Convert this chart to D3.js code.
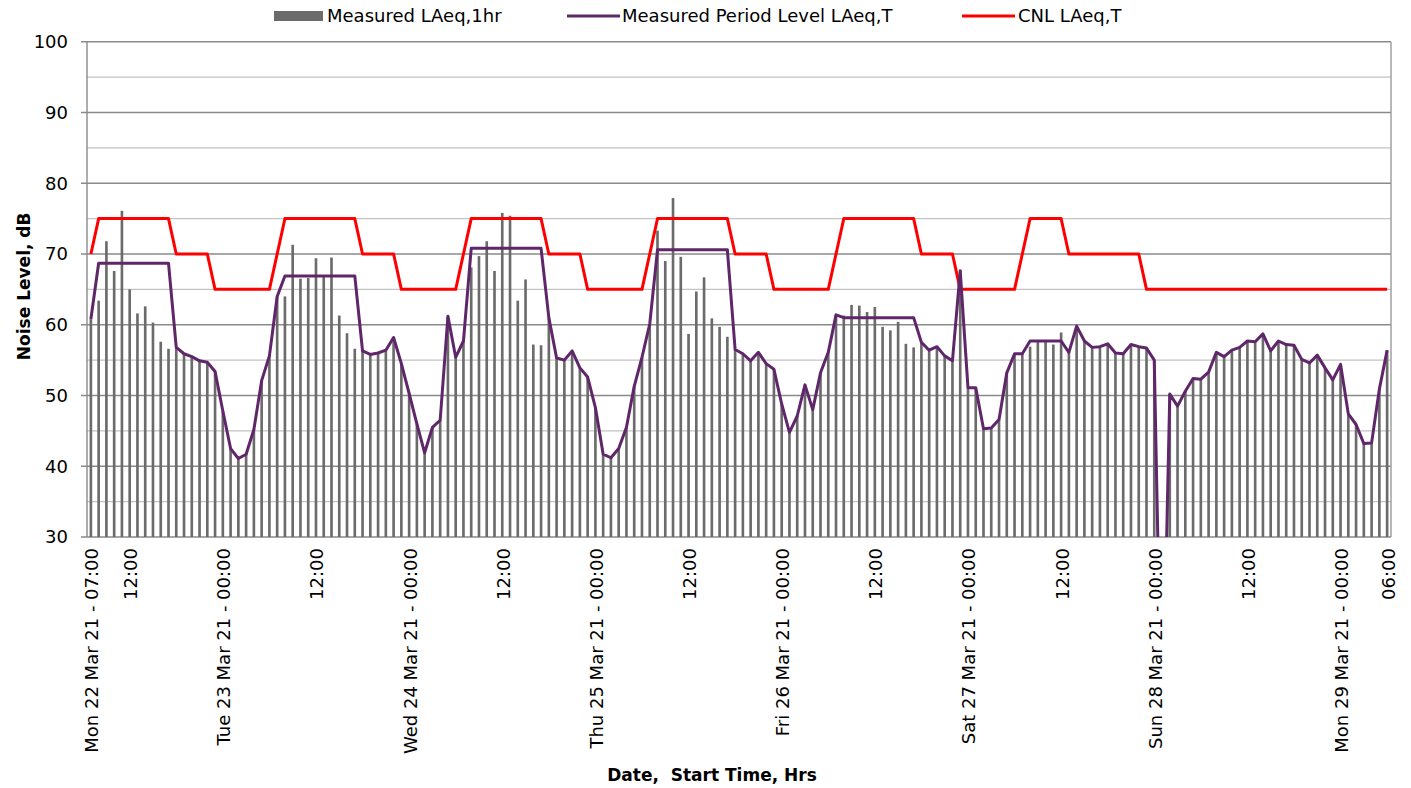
<!DOCTYPE html>
<html>
<head>
<meta charset="utf-8">
<script src="https://cdn.jsdelivr.net/npm/d3@7"></script>
<style>
  body { margin: 0; background: #fff; }
  svg { display: block; font-family: "DejaVu Sans", sans-serif; }
</style>
</head>
<body>
<svg id="chart" width="1411" height="788"></svg>
<script>
// hourly measured LAeq,1hr, Mon 22 Mar 07:00 -> Mon 29 Mar 06:00
const laeq1h = [
  60.8, 63.4, 71.8, 67.6, 76.1, 65.0, 61.6, 62.6, 60.3, 57.6, 56.6, 56.8,
  55.9, 55.5, 54.9, 54.7, 53.4, 47.8, 42.5, 41.1, 41.7, 45.2, 52.1, 55.6,
  64.0, 64.0, 71.3, 66.5, 66.6, 69.4, 67.0, 69.5, 61.3, 58.8, 56.6, 56.3,
  55.8, 56.0, 56.4, 58.2, 54.5, 50.3, 46.0, 41.9, 45.5, 46.5, 61.2, 55.4,
  57.7, 68.1, 69.7, 71.8, 67.6, 75.8, 75.4, 63.4, 66.4, 57.2, 57.1, 61.0,
  55.3, 55.0, 56.3, 53.9, 52.6, 48.3, 41.7, 41.2, 42.5, 45.5, 51.3, 55.4,
  60.1, 73.3, 69.0, 77.9, 69.6, 58.7, 64.7, 66.7, 60.9, 59.7, 58.3, 56.5,
  55.9, 54.9, 56.1, 54.5, 53.7, 48.8, 44.8, 47.1, 51.5, 48.0, 53.2, 56.1,
  61.4, 61.3, 62.8, 62.7, 61.8, 62.5, 59.7, 59.2, 60.4, 57.3, 56.8, 57.5,
  56.4, 56.9, 55.6, 54.9, 67.8, 51.1, 51.1, 45.3, 45.4, 46.6, 53.2, 55.9,
  55.9, 56.9, 57.7, 57.7, 57.2, 58.9, 56.1, 59.8, 57.7, 56.8, 56.9, 57.3,
  56.0, 55.9, 57.2, 56.9, 56.7, 55.0, 0.0, 50.2, 48.5, 50.6, 52.4, 52.3,
  53.3, 56.1, 55.5, 56.4, 56.8, 57.7, 57.6, 58.7, 56.3, 57.7, 57.2, 57.1,
  55.1, 54.6, 55.7, 53.9, 52.2, 54.4, 47.4, 45.9, 43.2, 43.3, 50.9, 56.4
];

// measured period level LAeq,T
const periodLevel = [
  60.8, 68.7, 68.7, 68.7, 68.7, 68.7, 68.7, 68.7, 68.7, 68.7, 68.7, 56.8,
  55.9, 55.5, 54.9, 54.7, 53.4, 47.8, 42.5, 41.1, 41.7, 45.2, 52.1, 55.6,
  64.0, 66.9, 66.9, 66.9, 66.9, 66.9, 66.9, 66.9, 66.9, 66.9, 66.9, 56.3,
  55.8, 56.0, 56.4, 58.2, 54.5, 50.3, 46.0, 41.9, 45.5, 46.5, 61.2, 55.4,
  57.7, 70.8, 70.8, 70.8, 70.8, 70.8, 70.8, 70.8, 70.8, 70.8, 70.8, 61.0,
  55.3, 55.0, 56.3, 53.9, 52.6, 48.3, 41.7, 41.2, 42.5, 45.5, 51.3, 55.4,
  60.1, 70.6, 70.6, 70.6, 70.6, 70.6, 70.6, 70.6, 70.6, 70.6, 70.6, 56.5,
  55.9, 54.9, 56.1, 54.5, 53.7, 48.8, 44.8, 47.1, 51.5, 48.0, 53.2, 56.1,
  61.4, 61.0, 61.0, 61.0, 61.0, 61.0, 61.0, 61.0, 61.0, 61.0, 61.0, 57.5,
  56.4, 56.9, 55.6, 54.9, 67.6, 51.1, 51.1, 45.3, 45.4, 46.6, 53.2, 55.9,
  55.9, 57.7, 57.7, 57.7, 57.7, 57.7, 56.1, 59.8, 57.7, 56.8, 56.9, 57.3,
  56.0, 55.9, 57.2, 56.9, 56.7, 55.0, 0.0, 50.2, 48.5, 50.6, 52.4, 52.3,
  53.3, 56.1, 55.5, 56.4, 56.8, 57.7, 57.6, 58.7, 56.3, 57.7, 57.2, 57.1,
  55.1, 54.6, 55.7, 53.9, 52.2, 54.4, 47.4, 45.9, 43.2, 43.3, 50.9, 56.4
];

// CNL LAeq,T
const cnl = [
  70, 75, 75, 75, 75, 75, 75, 75, 75, 75, 75, 70,
  70, 70, 70, 70, 65, 65, 65, 65, 65, 65, 65, 65,
  70, 75, 75, 75, 75, 75, 75, 75, 75, 75, 75, 70,
  70, 70, 70, 70, 65, 65, 65, 65, 65, 65, 65, 65,
  70, 75, 75, 75, 75, 75, 75, 75, 75, 75, 75, 70,
  70, 70, 70, 70, 65, 65, 65, 65, 65, 65, 65, 65,
  70, 75, 75, 75, 75, 75, 75, 75, 75, 75, 75, 70,
  70, 70, 70, 70, 65, 65, 65, 65, 65, 65, 65, 65,
  70, 75, 75, 75, 75, 75, 75, 75, 75, 75, 75, 70,
  70, 70, 70, 70, 65, 65, 65, 65, 65, 65, 65, 65,
  70, 75, 75, 75, 75, 75, 70, 70, 70, 70, 70, 70,
  70, 70, 70, 70, 65, 65, 65, 65, 65, 65, 65, 65,
  65, 65, 65, 65, 65, 65, 65, 65, 65, 65, 65, 65,
  65, 65, 65, 65, 65, 65, 65, 65, 65, 65, 65, 65
];

// category axis: one per hour
const startTime = new Date(2021, 2, 22, 7);
const hours = d3.range(laeq1h.length).map(i => d3.timeHour.offset(startTime, i));

const tickTimes = [
  "2021-03-22 07:00", "2021-03-22 12:00", "2021-03-23 00:00", "2021-03-23 12:00",
  "2021-03-24 00:00", "2021-03-24 12:00", "2021-03-25 00:00", "2021-03-25 12:00",
  "2021-03-26 00:00", "2021-03-26 12:00", "2021-03-27 00:00", "2021-03-27 12:00",
  "2021-03-28 00:00", "2021-03-28 12:00", "2021-03-29 00:00", "2021-03-29 06:00"
];
const tickLabels = [
  "Mon 22 Mar 21 - 07:00", "12:00", "Tue 23 Mar 21 - 00:00", "12:00",
  "Wed 24 Mar 21 - 00:00", "12:00", "Thu 25 Mar 21 - 00:00", "12:00",
  "Fri 26 Mar 21 - 00:00", "12:00", "Sat 27 Mar 21 - 00:00", "12:00",
  "Sun 28 Mar 21 - 00:00", "12:00", "Mon 29 Mar 21 - 00:00", "06:00"
];
const yTicks = [30, 40, 50, 60, 70, 80, 90, 100];
const yMinor = [35, 45, 55, 65, 75, 85, 95];

const svg = d3.select("#chart");
const plotL = 87, plotR = 1391, plotT = 41.7, plotB = 537;

const keyFmt = d3.timeFormat("%Y-%m-%d %H:%M");
const x = d3.scaleBand()
  .domain(hours.map(keyFmt))
  .range([plotL, plotR])
  .paddingInner(0)
  .paddingOuter(0);
const y = d3.scaleLinear().domain([30, 100]).range([plotB, plotT]);

// gridlines
svg.append("g").selectAll("line").data(yMinor).enter().append("line")
  .attr("x1", plotL).attr("x2", plotR)
  .attr("y1", d => y(d)).attr("y2", d => y(d))
  .attr("stroke", "#c3c3c3").attr("stroke-width", 1.4);
svg.append("g").selectAll("line").data(yTicks).enter().append("line")
  .attr("x1", plotL - 6).attr("x2", plotR)
  .attr("y1", d => y(d)).attr("y2", d => y(d))
  .attr("stroke", "#8a8a8a").attr("stroke-width", 1.4);

// right border
svg.append("line")
  .attr("x1", plotR).attr("x2", plotR).attr("y1", plotT).attr("y2", plotB)
  .attr("stroke", "#9a9a9a").attr("stroke-width", 1.4);

svg.append("clipPath").attr("id", "plot")
  .append("rect").attr("x", plotL).attr("y", plotT - 5)
  .attr("width", plotR - plotL).attr("height", plotB - plotT + 5);

// bars
const bw = x.bandwidth() * 0.34;
svg.append("g").selectAll("rect").data(laeq1h).enter().append("rect")
  .attr("x", (d, i) => x(keyFmt(hours[i])) + (x.bandwidth() - bw) / 2)
  .attr("width", bw)
  .attr("y", d => y(Math.max(d, 30)))
  .attr("height", d => y(30) - y(Math.max(d, 30)))
  .attr("fill", "#6b6b6b");

// y axis line
svg.append("line")
  .attr("x1", plotL).attr("x2", plotL).attr("y1", plotT).attr("y2", plotB)
  .attr("stroke", "#8a8a8a").attr("stroke-width", 1.4);

const line = d3.line()
  .x((d, i) => x(keyFmt(hours[i])) + x.bandwidth() / 2)
  .y(d => y(d));

svg.append("path").datum(cnl)
  .attr("d", line).attr("fill", "none")
  .attr("stroke", "#ff0000").attr("stroke-width", 3)
  .attr("stroke-linejoin", "round")
  .attr("clip-path", "url(#plot)");

svg.append("path").datum(periodLevel)
  .attr("d", line).attr("fill", "none")
  .attr("stroke", "#60266a").attr("stroke-width", 3)
  .attr("stroke-linejoin", "round")
  .attr("clip-path", "url(#plot)");

// y tick labels
svg.append("g").selectAll("text").data(yTicks).enter().append("text")
  .attr("x", 68).attr("y", d => y(d)).attr("dy", "0.36em")
  .attr("text-anchor", "end").attr("font-size", 18).attr("fill", "#000")
  .text(d => d);

// x tick labels
svg.append("g").selectAll("text").data(tickTimes).enter().append("text")
  .attr("transform", d => `translate(${x(d) + x.bandwidth() / 2 + 1},548) rotate(-90)`)
  .attr("dy", "0.36em")
  .attr("text-anchor", "end").attr("font-size", 18).attr("fill", "#000")
  .text((d, i) => tickLabels[i]);

// axis titles
svg.append("text")
  .attr("transform", `translate(24,${(plotT + plotB) / 2 - 3}) rotate(-90)`)
  .attr("dy", "0.36em").attr("text-anchor", "middle")
  .attr("font-size", 17).attr("font-weight", "bold")
  .text("Noise Level, dB");
svg.append("text")
  .attr("x", 712).attr("y", 781).attr("text-anchor", "middle")
  .attr("font-size", 17).attr("font-weight", "bold")
  .attr("xml:space", "preserve")
  .text("Date,  Start Time, Hrs");

// legend
const legend = svg.append("g").attr("font-size", 18);
legend.append("rect").attr("x", 274).attr("y", 11).attr("width", 49).attr("height", 10).attr("fill", "#6b6b6b");
legend.append("text").attr("x", 327).attr("y", 16).attr("dy", "0.36em").text("Measured LAeq,1hr");
legend.append("line").attr("x1", 567).attr("x2", 620).attr("y1", 16).attr("y2", 16)
  .attr("stroke", "#60266a").attr("stroke-width", 3);
legend.append("text").attr("x", 622).attr("y", 16).attr("dy", "0.36em").text("Measured Period Level LAeq,T");
legend.append("line").attr("x1", 962).attr("x2", 1015).attr("y1", 16).attr("y2", 16)
  .attr("stroke", "#ff0000").attr("stroke-width", 3);
legend.append("text").attr("x", 1018).attr("y", 16).attr("dy", "0.36em").text("CNL LAeq,T");
</script>
</body>
</html>
